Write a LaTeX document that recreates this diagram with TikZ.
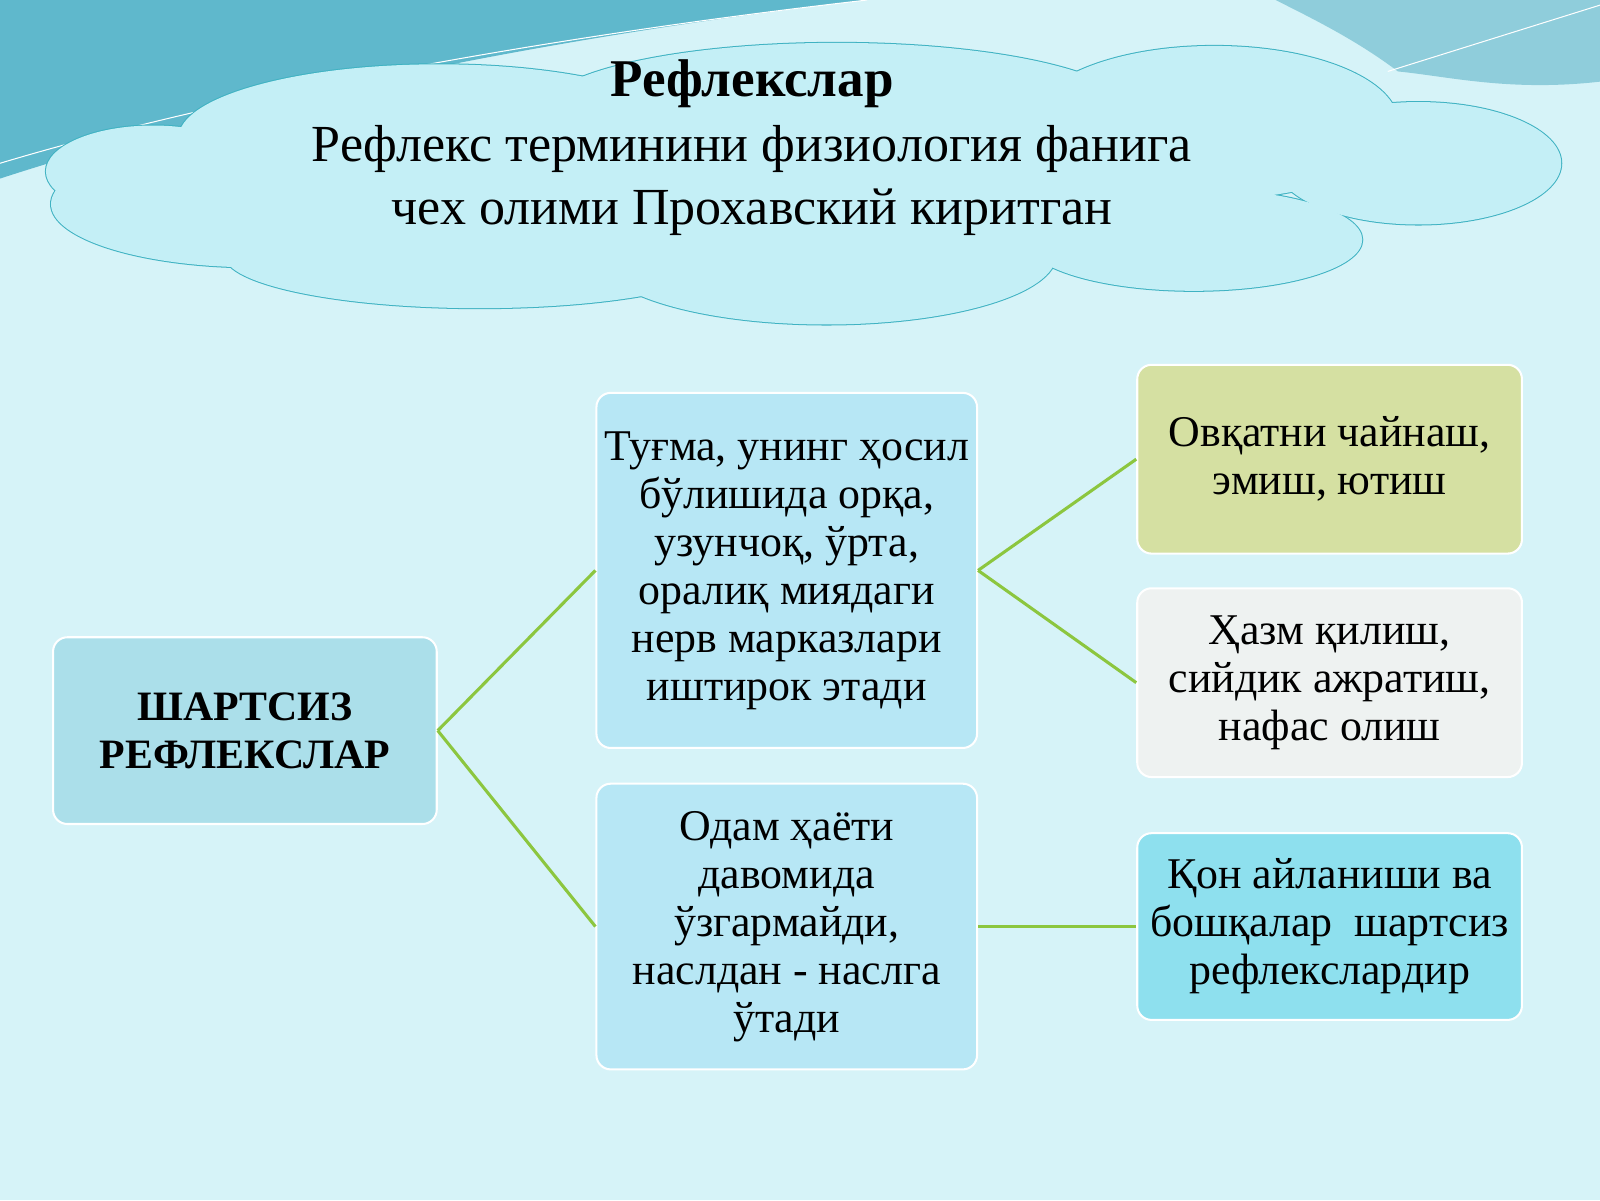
\documentclass[tikz,border=0pt]{standalone}
\usepackage{fontspec}
\setmainfont{Liberation Serif}
\definecolor{bgc}{HTML}{D6F3F8}
\definecolor{teal1}{HTML}{5FB8CC}
\definecolor{cloudc}{HTML}{C4EFF6}
\definecolor{cloudl}{HTML}{3FB2C2}
\definecolor{boxa}{HTML}{ABDFEA}
\definecolor{boxb}{HTML}{B7E7F5}
\definecolor{boxc}{HTML}{D5E0A2}
\definecolor{boxd}{HTML}{EEF2F1}
\definecolor{boxe}{HTML}{8EE0EE}
\definecolor{lgreen}{HTML}{8CC63F}
\tikzset{
  bx/.style={draw=white, line width=2pt, rounded corners=14pt, align=center, font=\fontsize{43}{47}\selectfont, inner sep=0pt},
  con/.style={draw=lgreen, line width=3pt},
}
\begin{document}
\begin{tikzpicture}[x=1pt,y=-1pt]
\useasboundingbox (0,0) rectangle (1568,1176);
\fill[bgc] (0,0) rectangle (1568,1176);
% top waves
\fill[teal1] (0,0) -- (850,0) .. controls (500,40) and (200,110) .. (0,175) -- cycle;
\fill[teal1!70!white] (1250,0) -- (1568,0) -- (1568,80) .. controls (1480,90) and (1420,75) .. (1370,70) .. controls (1330,40) and (1290,20) .. (1250,0) -- cycle;
\draw[white, line width=1pt] (0,160) .. controls (200,100) and (500,40) .. (850,0);
\draw[white, line width=1pt] (1360,70) -- (1568,5);
% cloud
\foreach \cx/\cy/\rx/\ry in {250/200/200/62,150/168/105/45,430/135/255/72,820/110/290/68,1190/120/180/75,1390/160/140/60,1170/235/165/50,810/250/225/68,470/250/250/52}
  \draw[cloudl, line width=2pt] (\cx,\cy) ellipse (\rx pt and \ry pt);
\foreach \cx/\cy/\rx/\ry in {250/200/200/62,150/168/105/45,430/135/255/72,820/110/290/68,1190/120/180/75,1390/160/140/60,1170/235/165/50,810/250/225/68,470/250/250/52,800/180/450/70}
  \fill[cloudc] (\cx,\cy) ellipse (\rx pt and \ry pt);
\node[font=\fontsize{52}{58}\selectfont\bfseries] (t0) at (737,82) {Рефлекслар};
\node[align=center, font=\fontsize{51}{62}\selectfont] (t1) at (737,177) {Рефлекс терминини физиология фанига\\ чех олими Прохавский киритган};
% boxes
\node[bx, fill=boxa, minimum width=376pt, minimum height=183pt, font=\fontsize{41}{47}\selectfont\bfseries] (L) at (240,716) {ШАРТСИЗ\\ РЕФЛЕКСЛАР};
\node[bx, fill=boxb, minimum width=373pt, minimum height=348pt] (M1) at (771,559) {Туғма, унинг ҳосил\\ бўлишида орқа,\\ узунчоқ, ўрта,\\ оралиқ миядаги\\ нерв марказлари\\ иштирок этади};
\node[bx, fill=boxb, minimum width=373pt, minimum height=280pt] (M2) at (771,908) {Одам ҳаёти\\ давомида\\ ўзгармайди,\\ наслдан - наслга\\ ўтади};
\node[bx, fill=boxc, minimum width=377pt, minimum height=185pt] (R1) at (1303,450) {Овқатни чайнаш,\\ эмиш, ютиш};
\node[bx, fill=boxd, minimum width=377pt, minimum height=185pt] (R2) at (1303,669) {Ҳазм қилиш,\\ сийдик ажратиш,\\ нафас олиш};
\node[bx, fill=boxe, minimum width=377pt, minimum height=183pt] (R3) at (1303,908) {Қон айланиши ва\\ бошқалар\ \ шартсиз\\ рефлекслардир};
% connectors
\draw[con] (L.east) -- (M1.west);
\draw[con] (L.east) -- (M2.west);
\draw[con] (M1.east) -- (R1.west);
\draw[con] (M1.east) -- (R2.west);
\draw[con] (M2.east) -- (R3.west);
\end{tikzpicture}
\end{document}
